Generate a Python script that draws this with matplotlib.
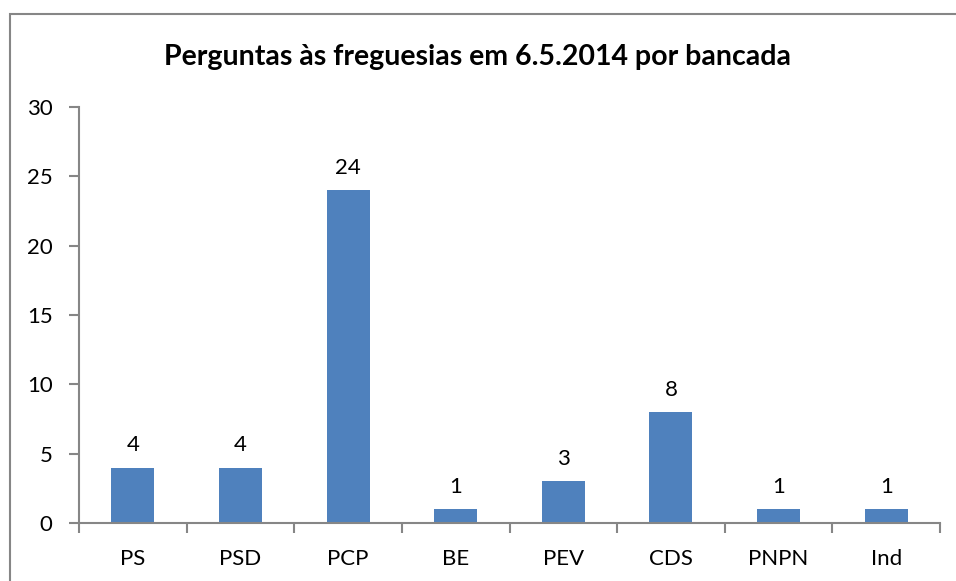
import matplotlib
matplotlib.use("Agg")
import matplotlib.pyplot as plt
from matplotlib.patches import Rectangle

# data
parties = ["PS", "PSD", "PCP", "BE", "PEV", "CDS", "PNPN", "Ind"]
questions = [4, 4, 24, 1, 3, 8, 1, 1]
y_ticks = [0, 5, 10, 15, 20, 25, 30]

BAR_COLOR = "#4F81BD"
AXIS_COLOR = "#868686"

plt.rcParams["font.family"] = ["Lato", "DejaVu Sans"]

fig = plt.figure(figsize=(9.56, 5.81), dpi=100)
ax = fig.add_axes([79 / 956, 58 / 581, 861 / 956, 416 / 581])

x = range(len(parties))
bars = ax.bar(x, questions, width=0.4, color=BAR_COLOR)

# value labels above bars
for xi, v in zip(x, questions):
    ax.text(xi, v + 0.9, str(v), ha="center", va="bottom", fontsize=16)

ax.set_xlim(-0.5, len(parties) - 0.5)
ax.set_ylim(0, 30)
ax.set_yticks(y_ticks)
ax.set_yticklabels([str(t) for t in y_ticks], fontsize=16)

# category labels centred, tick marks on category boundaries
ax.set_xticks([i - 0.5 for i in range(len(parties) + 1)])
ax.set_xticklabels([])
ax.set_xticks(list(x), minor=True)
ax.set_xticklabels(parties, minor=True, fontsize=16)
ax.tick_params(axis="x", which="minor", length=0, pad=19)
ax.tick_params(axis="x", which="major", length=7, width=1.5, color=AXIS_COLOR)
ax.tick_params(axis="y", length=7, width=1.5, color=AXIS_COLOR, pad=12)

for side in ["top", "right"]:
    ax.spines[side].set_visible(False)
for side in ["left", "bottom"]:
    ax.spines[side].set_color(AXIS_COLOR)
    ax.spines[side].set_linewidth(1.5)

fig.text(478 / 956, 1 - 57 / 581, "Perguntas às freguesias em 6.5.2014 por bancada",
         ha="center", va="center", fontsize=20.5, fontweight="bold")

# chart area border (runs off right and bottom edges)
fig.patches.append(Rectangle((9.5 / 956, -0.05), 1.0, 1 - 14 / 581 + 0.05,
                             transform=fig.transFigure, fill=False,
                             edgecolor=AXIS_COLOR, linewidth=1.5))

fig.savefig("out.png", dpi=100)
